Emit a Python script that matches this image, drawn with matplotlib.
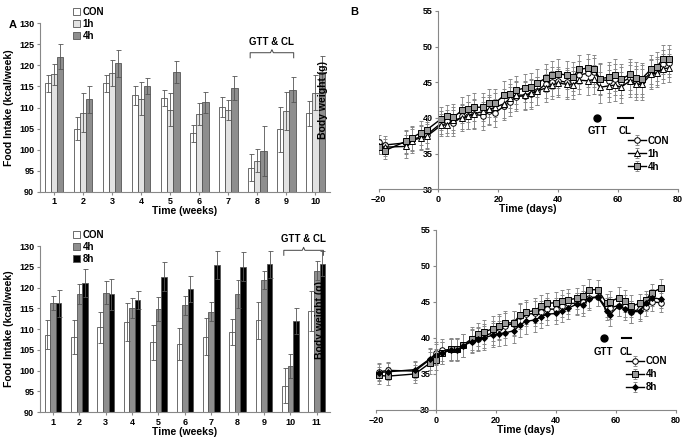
import matplotlib
matplotlib.use("Agg")
import matplotlib.pyplot as plt
import numpy as np

plt.rcParams['font.family'] = ['Liberation Sans', 'DejaVu Sans']
plt.rcParams['font.weight'] = 'bold'
plt.rcParams['font.size'] = 6.5

# Panel A top
weeks_a1 = [1,2,3,4,5,6,7,8,9,10]
con_a1 = [115.7,105.0,115.8,112.9,112.2,103.9,110.1,95.7,104.8,108.6]
con_a1_e = [2.0,2.8,2.0,2.2,1.9,2.0,2.4,3.2,5.3,3.0]
h1_a1 = [117.9,108.8,118.1,112.1,109.5,108.4,109.5,97.4,109.2,113.5]
h1_a1_e = [2.5,4.7,3.1,3.9,4.0,2.6,2.4,2.8,4.5,4.1]
h4_a1 = [122.1,112.0,120.5,115.0,118.5,111.2,114.6,99.6,114.2,118.5]
h4_a1_e = [2.9,3.2,3.2,1.9,2.6,2.6,2.8,5.9,3.0,3.8]
# Panel A bottom
weeks_a2 = [1,2,3,4,5,6,7,8,9,10,11]
con_a2 = [108.7,108.1,110.4,111.7,106.8,106.4,108.2,109.4,112.1,96.4,114.4]
con_a2_e = [3.4,4.0,3.8,4.5,4.2,3.8,4.5,3.1,4.5,4.3,4.8]
h4_a2 = [116.3,118.4,118.8,115.1,114.9,115.8,114.2,118.4,121.8,101.1,124.1]
h4_a2_e = [1.8,2.4,2.7,2.3,2.9,2.3,2.3,3.4,2.2,2.8,2.3]
h8_a2 = [116.2,121.2,118.4,117.1,122.6,119.6,125.5,125.0,125.6,112.0,125.8]
h8_a2_e = [3.2,3.4,3.8,2.2,3.5,3.1,3.4,3.5,3.2,3.2,3.0]

# Panel B top
t_b1 = [-20,-18,-11,-9,-6,-4,1,3,5,8,10,12,15,17,19,22,24,26,29,31,33,36,38,40,43,45,47,50,52,54,57,59,61,64,66,68,71,73,75,77]
con_b1 = [36.6,36.2,36.5,37.0,37.3,37.6,39.3,39.5,39.3,40.2,40.3,40.5,40.3,41.0,40.7,41.7,42.3,43.0,43.1,43.3,43.8,44.8,45.1,45.2,45.0,45.2,46.0,46.3,46.4,45.4,45.2,45.4,45.0,45.6,45.1,45.2,46.3,46.6,47.5,47.7]
h1_b1 = [36.0,35.9,36.0,36.8,37.2,37.4,39.0,39.0,39.7,40.0,40.3,40.6,40.9,41.2,41.5,42.0,42.8,43.2,43.2,43.5,43.8,44.2,44.6,44.9,44.7,44.6,45.3,45.2,45.4,44.3,44.5,44.6,44.3,45.2,44.7,44.7,46.1,46.3,46.9,47.0]
h4_b1 = [35.9,35.4,36.7,37.2,37.9,38.3,39.9,40.2,40.1,41.1,41.3,41.5,41.5,42.1,42.1,43.2,43.4,43.9,44.2,44.3,44.9,45.6,46.0,46.2,46.0,45.8,46.8,47.0,46.8,45.5,45.7,46.0,45.4,46.1,45.6,45.5,46.8,47.2,48.2,48.2]
err_b1 = [1.0,1.2,1.6,1.7,1.7,1.8,1.6,1.6,1.8,1.8,1.9,2.0,2.0,2.0,2.0,2.0,2.0,2.0,2.0,2.0,2.0,2.0,2.0,2.0,2.0,2.0,2.0,2.0,2.0,2.2,2.2,2.2,2.2,2.2,2.2,2.2,2.0,2.0,2.0,2.0]
# Panel B bottom
t_b2 = [-19,-16,-7,-2,0,2,5,7,9,12,14,16,19,21,23,26,28,30,33,35,37,40,42,44,47,49,51,54,57,58,61,63,65,68,70,72,75]
con_b2 = [35.3,35.5,35.4,37.0,37.9,38.3,38.4,38.5,39.0,39.6,39.9,40.3,40.7,41.4,41.7,42.0,43.0,43.3,43.4,43.6,44.0,44.0,44.4,44.8,44.8,45.0,45.6,45.7,44.2,44.2,44.5,44.4,43.6,44.0,44.3,45.0,44.9]
h4_b2 = [34.8,34.7,35.0,36.5,37.0,37.9,38.5,38.5,39.0,39.9,40.5,40.8,41.3,41.6,42.1,42.1,43.2,43.6,43.8,44.4,44.8,44.9,45.1,45.3,45.5,45.8,46.7,46.7,44.8,45.0,45.6,45.1,44.4,44.8,45.3,46.3,46.9]
h8_b2 = [35.2,35.3,35.6,37.1,37.7,37.9,38.3,38.3,38.9,39.5,39.8,40.0,40.4,40.6,40.7,41.0,41.8,42.3,42.5,42.9,43.3,43.4,43.7,44.1,44.7,44.6,45.4,45.7,43.8,43.2,44.5,44.0,43.6,43.7,44.9,45.6,45.4]
err_b2 = [1.2,1.2,1.2,1.5,1.5,1.5,1.5,1.5,1.6,1.6,1.6,1.7,1.7,1.7,1.7,1.7,1.7,1.7,1.7,1.5,1.5,1.5,1.5,1.5,1.5,1.5,1.5,1.3,1.3,1.5,1.5,1.5,1.5,1.3,1.2,1.2,1.3]

fig = plt.figure(figsize=(6.86, 4.38), dpi=100)
axA1 = fig.add_axes([0.058, 0.562, 0.423, 0.385])
axA2 = fig.add_axes([0.058, 0.059, 0.423, 0.379])
axB1 = fig.add_axes([0.552, 0.568, 0.436, 0.407])
axB2 = fig.add_axes([0.548, 0.064, 0.437, 0.411])

def bars(ax, weeks, series, ylabel_on=True):
    w = 0.21
    x = np.array(weeks, dtype=float)
    n = len(series)
    for i, (vals, errs, col, lab) in enumerate(series):
        off = (i - (n - 1) / 2) * w
        ax.bar(x + off, np.array(vals) - 90, w, bottom=90, color=col, edgecolor='#555555',
               linewidth=0.6, label=lab,
               yerr=errs, error_kw=dict(ecolor='#555555', elinewidth=0.6, capsize=1.8, capthick=0.6))
    ax.set_ylim(90, 130)
    ax.set_xlim(0.5, len(weeks) + 0.5)
    ax.set_xticks(weeks)
    ax.set_yticks(range(90, 131, 5))
    ax.set_xlabel('Time (weeks)', fontsize=7.5, fontweight='bold', labelpad=0)
    ax.set_ylabel('Food Intake (kcal/week)', fontsize=7.5, fontweight='bold')
    for s in ['top', 'right']:
        ax.spines[s].set_visible(False)
    ax.spines['left'].set_color('#888888')
    ax.spines['bottom'].set_color('#888888')
    ax.tick_params(length=2, color='#888888', pad=2)
    leg = ax.legend(loc='upper left', bbox_to_anchor=(0.1, 1.12), frameon=False, fontsize=7,
                    handlelength=0.8, handleheight=0.8, handletextpad=0.2, labelspacing=0.2,
                    borderaxespad=0)
    leg.set_clip_on(False)

bars(axA1, weeks_a1, [(con_a1, con_a1_e, 'white', 'CON'), (h1_a1, h1_a1_e, '#e2e2e2', '1h'),
                      (h4_a1, h4_a1_e, '#8e8e8e', '4h')])
bars(axA2, weeks_a2, [(con_a2, con_a2_e, 'white', 'CON'), (h4_a2, h4_a2_e, '#8e8e8e', '4h'),
                      (h8_a2, h8_a2_e, 'black', '8h')])

def bracket(ax, x0, x1, y, h, label):
    xm = (x0 + x1) / 2
    ax.plot([x0, x0, xm - 0.05, xm, xm + 0.05, x1, x1], [y - h, y, y, y + h * 0.6, y, y, y - h],
            color='#444444', lw=0.7, clip_on=False)
    ax.text(xm, y + h * 1.2, label, ha='center', va='bottom', fontsize=7, fontweight='bold')

bracket(axA1, 7.75, 9.25, 123, 1.2, 'GTT & CL')
bracket(axA2, 9.75, 11.25, 129, 1.2, 'GTT & CL')

def lines(ax, t, series, err, dot_x, cl):
    for vals, mk, fc, ms, lab in series:
        ax.errorbar(t, vals, yerr=err, color='black', lw=1.0, marker=mk, mfc=fc, mec='black',
                    ms=ms, mew=0.7, ecolor='#888888', elinewidth=0.6, capsize=1.5, capthick=0.6,
                    label=lab)
    ax.set_xlim(-20, 80)
    ax.set_ylim(30, 55)
    ax.set_xticks([-20, 0, 20, 40, 60, 80])
    ax.set_yticks([30, 35, 40, 45, 50, 55])
    ax.spines['left'].set_position(('data', 0))
    for s in ['top', 'right']:
        ax.spines[s].set_visible(False)
    ax.spines['left'].set_color('#888888')
    ax.spines['bottom'].set_color('#888888')
    ax.tick_params(length=2, color='#888888', pad=2)
    ax.set_xlabel('Time (days)', fontsize=7.5, fontweight='bold', labelpad=0)
    ax.set_ylabel('Body weight (g)', fontsize=7.5, fontweight='bold')
    ax.yaxis.set_label_coords(-0.17, 0.5)
    ax.plot([dot_x], [40], 'o', color='black', ms=5)
    ax.text(dot_x, 38.8, 'GTT', ha='center', va='top', fontsize=7, fontweight='bold')
    ax.plot(cl, [40, 40], color='black', lw=1.5)
    ax.text(np.mean(cl), 38.8, 'CL', ha='center', va='top', fontsize=7, fontweight='bold')
    ax.legend(loc='lower right', bbox_to_anchor=(1.0, 0.05), frameon=False, fontsize=7,
              handlelength=1.8, handletextpad=0.2, labelspacing=0.3)

lines(axB1, t_b1, [(con_b1, 'o', 'white', 4, 'CON'), (h1_b1, '^', 'white', 4, '1h'),
                   (h4_b1, 's', '#999999', 4.5, '4h')], err_b1, 53, [60, 65])
lines(axB2, t_b2, [(con_b2, 'o', 'white', 4, 'CON'), (h4_b2, 's', '#999999', 4.5, '4h'),
                   (h8_b2, 'D', 'black', 3, '8h')], err_b2, 56, [62, 65])

fig.text(0.012, 0.935, 'A', fontsize=8, fontweight='bold')
fig.text(0.51, 0.965, 'B', fontsize=8, fontweight='bold')

fig.savefig('out.png', dpi=100)
